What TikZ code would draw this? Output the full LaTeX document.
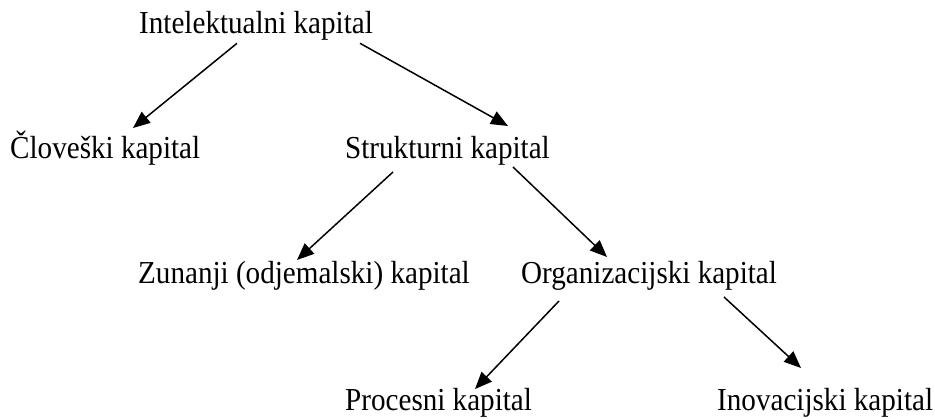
\documentclass[tikz,border=0pt]{standalone}
\usepackage{fontspec}
\setmainfont{Liberation Serif}[FakeStretch=0.91]
\usetikzlibrary{arrows.meta,calc}
\begin{document}
\begin{tikzpicture}[x=1pt,y=-1pt,
  lbl/.style={anchor=base west,inner sep=0pt,font=\fontsize{32}{38}\selectfont},
  arr/.style={draw=black,line width=1.5pt,-{Triangle[length=17pt,width=14pt]}}]
\useasboundingbox[fill=white] (0,0) rectangle (935,419);
\node[lbl] (intel) at (139,33.3) {Intelektualni kapital};
\node[lbl] (clov) at (10,159) {Človeški kapital};
\node[lbl] (strk) at (345,158.5) {Strukturni kapital};
\node[lbl] (zun) at (138,284) {Zunanji (odjemalski) kapital};
\node[lbl] (org) at (521,284) {Organizacijski kapital};
\node[lbl] (proc) at (345,411) {Procesni kapital};
\node[lbl] (inov) at (717,411) {Inovacijski kapital};
\draw[arr] ($(intel.base west)+(98,10)$) -- ($(clov.base west)+(123,-31)$);
\draw[arr] ($(intel.base west)+(221,10)$) -- ($(strk.base west)+(163,-32.5)$);
\draw[arr] ($(strk.base west)+(48,13.5)$) -- ($(zun.base west)+(159,-24)$);
\draw[arr] ($(strk.base west)+(168,8.5)$) -- ($(org.base west)+(86,-27)$);
\draw[arr] ($(org.base west)+(38,17)$) -- ($(proc.base west)+(130,-22)$);
\draw[arr] ($(org.base west)+(203,13)$) -- ($(inov.base west)+(84,-43)$);
\end{tikzpicture}
\end{document}
